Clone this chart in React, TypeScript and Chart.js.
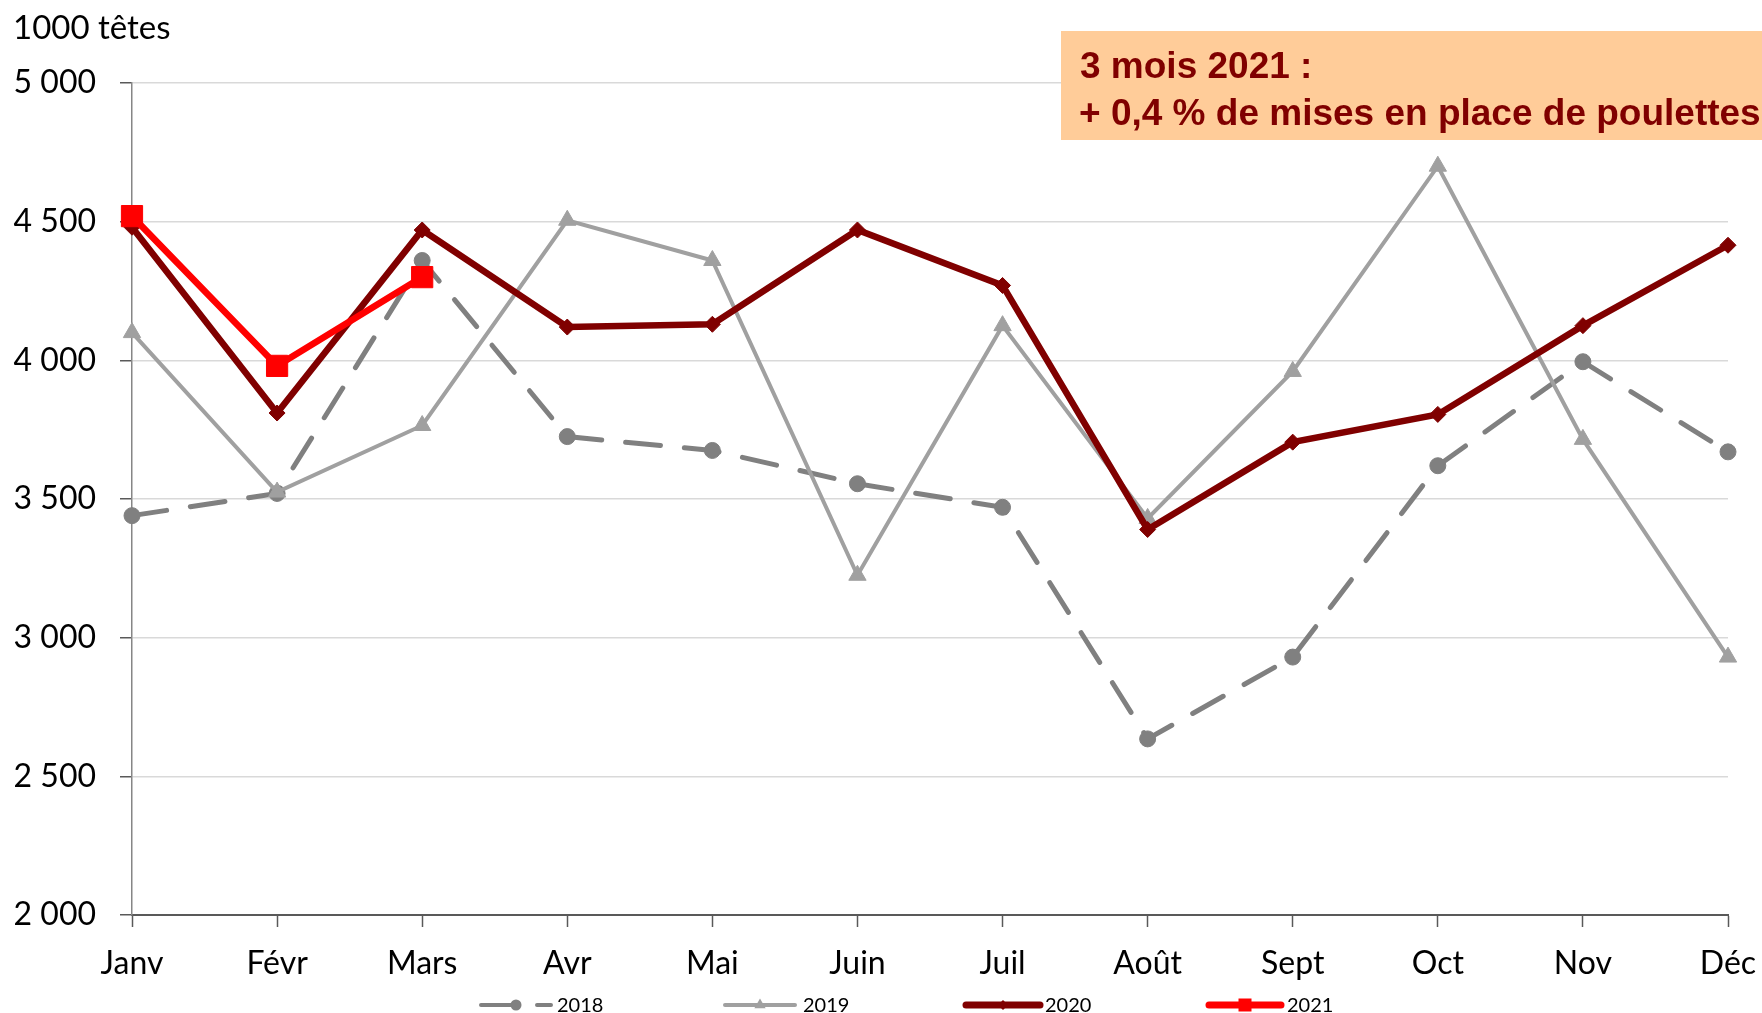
import React, { useEffect, useRef } from 'react';
import { Chart, registerables } from 'chart.js';

Chart.register(...registerables);

const months = ['Janv', 'Févr', 'Mars', 'Avr', 'Mai', 'Juin', 'Juil', 'Août', 'Sept', 'Oct', 'Nov', 'Déc'];
const v2018 = [3440, 3520, 4360, 3725, 3675, 3555, 3470, 2635, 2930, 3620, 3995, 3670];
const v2019 = [4100, 3525, 3765, 4505, 4360, 3225, 4125, 3430, 3960, 4700, 3715, 2930];
const v2020 = [4480, 3810, 4470, 4120, 4130, 4470, 4270, 3390, 3705, 3805, 4125, 4415];
const v2021 = [4520, 3980, 4300];
const seriesNames = ['2018', '2019', '2020', '2021'];
const yTicks = [2000, 2500, 3000, 3500, 4000, 4500, 5000];
const unitLabel = '1000 têtes';
const noteLines = ['3 mois 2021 :', '+ 0,4 % de mises en place de poulettes'];

const W = 1762;
const H = 1013;

const fmt = (n: number) => String(n).replace(/\B(?=(\d{3})+(?!\d))/g, ' ');

function drawMarker(ctx: CanvasRenderingContext2D, style: string, x: number, y: number, r: number, color: string) {
  ctx.save();
  ctx.fillStyle = color;
  ctx.setLineDash([]);
  ctx.beginPath();
  if (style === 'circle') {
    ctx.arc(x, y, r, 0, Math.PI * 2);
  } else if (style === 'triangle') {
    ctx.moveTo(x, y - r);
    ctx.lineTo(x + r * Math.sin((2 * Math.PI) / 3), y - r * Math.cos((2 * Math.PI) / 3));
    ctx.lineTo(x - r * Math.sin((2 * Math.PI) / 3), y - r * Math.cos((2 * Math.PI) / 3));
  } else if (style === 'rectRot') {
    ctx.moveTo(x - r, y);
    ctx.lineTo(x, y - r);
    ctx.lineTo(x + r, y);
    ctx.lineTo(x, y + r);
  } else {
    ctx.rect(x - r, y - r, 2 * r, 2 * r);
  }
  ctx.closePath();
  ctx.fill();
  ctx.restore();
}

const legendPos = [
  { x0: 481, x1: 551, tx: 557, mr: 5.5 },
  { x0: 725, x1: 795, tx: 803, mr: 6.5 },
  { x0: 966, x1: 1040, tx: 1045, mr: 5 },
  { x0: 1209, x1: 1281, tx: 1287, mr: 6.5 },
];

const decorPlugin = {
  id: 'decor',
  afterDraw(chart: any) {
    const ctx: CanvasRenderingContext2D = chart.ctx;
    ctx.save();
    // unit label
    ctx.fillStyle = '#000000';
    ctx.font = '33px Lato';
    ctx.textAlign = 'left';
    ctx.textBaseline = 'alphabetic';
    ctx.fillText(unitLabel, 13, 39);

    // note box
    ctx.fillStyle = '#FFCC99';
    ctx.fillRect(1061, 31, W - 1061, 109);
    ctx.fillStyle = '#800000';
    ctx.font = 'bold 37px "Liberation Sans"';
    ctx.fillText(noteLines[0], 1080, 77.5);
    ctx.fillText(noteLines[1], 1079, 124.5);

    // legend
    const ly = 1005;
    chart.data.datasets.forEach((ds: any, i: number) => {
      const p = legendPos[i];
      ctx.save();
      ctx.strokeStyle = ds.borderColor;
      ctx.lineWidth = i < 2 ? 4 : 7;
      ctx.lineCap = 'round';
      ctx.setLineDash(ds.borderDash && ds.borderDash.length ? [34, 22] : []);
      ctx.beginPath();
      ctx.moveTo(p.x0, ly);
      ctx.lineTo(p.x1, ly);
      ctx.stroke();
      ctx.restore();
      drawMarker(ctx, ds.pointStyle, (p.x0 + p.x1) / 2, ly, p.mr, ds.borderColor);
      ctx.fillStyle = '#000000';
      ctx.font = '20px Lato';
      ctx.textBaseline = 'middle';
      ctx.textAlign = 'left';
      ctx.fillText(ds.label, p.tx, ly + 1);
    });
    ctx.restore();
  },
};

export default function App() {
  const ref = useRef<HTMLCanvasElement | null>(null);

  useEffect(() => {
    if (!ref.current) return;
    const chart = new Chart(ref.current, {
      type: 'line',
      data: {
        labels: months,
        datasets: [
          {
            label: seriesNames[0],
            data: v2018,
            borderColor: '#808080',
            backgroundColor: '#808080',
            borderWidth: 5,
            borderDash: [35, 24],
            borderCapStyle: 'round',
            pointStyle: 'circle',
            pointRadius: 8,
            pointBorderWidth: 1,
            pointBackgroundColor: '#808080',
            pointBorderColor: '#808080',
            tension: 0,
            clip: false,
            order: 3,
          },
          {
            label: seriesNames[1],
            data: v2019,
            borderColor: '#A0A0A0',
            backgroundColor: '#A0A0A0',
            borderWidth: 4,
            pointStyle: 'triangle',
            pointRadius: 10,
            pointBorderWidth: 1,
            pointBackgroundColor: '#A0A0A0',
            pointBorderColor: '#A0A0A0',
            tension: 0,
            clip: false,
            order: 2,
          },
          {
            label: seriesNames[2],
            data: v2020,
            borderColor: '#800000',
            backgroundColor: '#800000',
            borderWidth: 6.5,
            pointStyle: 'rectRot',
            pointRadius: 8,
            pointBorderWidth: 1,
            pointBackgroundColor: '#800000',
            pointBorderColor: '#800000',
            tension: 0,
            clip: false,
            order: 1,
          },
          {
            label: seriesNames[3],
            data: v2021,
            borderColor: '#FF0000',
            backgroundColor: '#FF0000',
            borderWidth: 6.5,
            pointStyle: 'rect',
            pointRadius: 15,
            pointBorderWidth: 1,
            pointBackgroundColor: '#FF0000',
            pointBorderColor: '#FF0000',
            tension: 0,
            clip: false,
            order: 0,
          },
        ],
      },
      options: {
        responsive: false,
        animation: false,
        devicePixelRatio: 1,
        layout: { padding: { left: 0, right: 34, top: 83, bottom: 0 } },
        plugins: {
          legend: { display: false },
          tooltip: { enabled: false },
          title: { display: false },
        },
        scales: {
          x: {
            type: 'category',
            offset: false,
            afterFit: (scale: any) => {
              scale.height = H - 915;
              scale.paddingRight = 10;
              scale.paddingLeft = 10;
            },
            grid: {
              display: true,
              drawOnChartArea: false,
              drawTicks: true,
              tickLength: 12,
              tickColor: '#595959',
              tickWidth: 1.5,
            },
            border: { display: true, color: '#595959', width: 2 },
            ticks: {
              font: { family: 'Lato', size: 32 },
              color: '#000000',
              padding: 17,
              maxRotation: 0,
              autoSkip: false,
            },
          },
          y: {
            min: yTicks[0],
            max: yTicks[yTicks.length - 1],
            afterFit: (scale: any) => {
              scale.width = 132;
            },
            afterBuildTicks: (scale: any) => {
              scale.ticks = yTicks.map((v) => ({ value: v }));
            },
            grid: {
              color: '#D9D9D9',
              lineWidth: 1.5,
              drawTicks: true,
              tickLength: 12,
              tickColor: '#595959',
              tickWidth: 1.5,
            },
            border: { display: true, color: '#868686', width: 1.5 },
            ticks: {
              font: { family: 'Lato', size: 32 },
              color: '#000000',
              padding: 24,
              callback: (v: any) => fmt(Number(v)),
            },
          },
        },
      } as any,
      plugins: [decorPlugin],
    });
    return () => chart.destroy();
  }, []);

  return (
    <div style={{ position: 'absolute', left: 0, top: 0, width: W, height: H, background: '#ffffff' }}>
      <canvas ref={ref} width={W} height={H} style={{ width: W, height: H, display: 'block' }} />
    </div>
  );
}
